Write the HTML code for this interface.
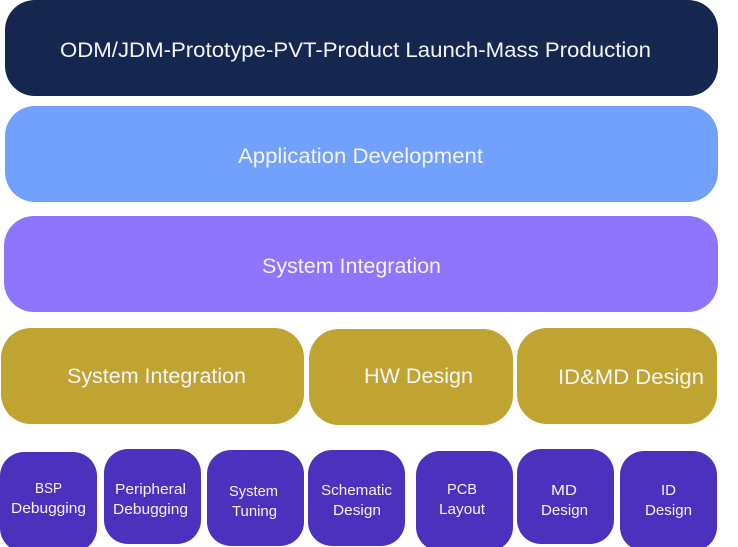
<!DOCTYPE html>
<html>
<head>
<meta charset="utf-8">
<style>
html,body{margin:0;padding:0;background:#fff;}
svg{display:block;}
text{font-family:"Liberation Sans",sans-serif;fill:#f4f4fa;}
</style>
</head>
<body>
<svg width="738" height="547" viewBox="0 0 738 547" xmlns="http://www.w3.org/2000/svg">
  <!-- Row 1 -->
  <rect x="5" y="0" width="713" height="96" rx="30" ry="30" fill="#15264f"/>
  <text x="60" y="57" font-size="21" textLength="591" lengthAdjust="spacingAndGlyphs">ODM/JDM-Prototype-PVT-Product Launch-Mass Production</text>

  <!-- Row 2 -->
  <rect x="5" y="106" width="713" height="96" rx="30" ry="30" fill="#71a1fc"/>
  <text x="238" y="163" font-size="21" textLength="245" lengthAdjust="spacingAndGlyphs">Application Development</text>

  <!-- Row 3 -->
  <rect x="4" y="216" width="714" height="96" rx="30" ry="30" fill="#8f74fe"/>
  <text x="262" y="273" font-size="21" textLength="179" lengthAdjust="spacingAndGlyphs">System Integration</text>

  <!-- Row 4 -->
  <rect x="1" y="328" width="303" height="96" rx="30" ry="30" fill="#c0a431"/>
  <text x="67" y="383" font-size="21" textLength="179" lengthAdjust="spacingAndGlyphs">System Integration</text>
  <rect x="309" y="329" width="204" height="96" rx="30" ry="30" fill="#c0a431"/>
  <text x="364" y="383" font-size="21" textLength="109" lengthAdjust="spacingAndGlyphs">HW Design</text>
  <rect x="517" y="328" width="200" height="96" rx="30" ry="30" fill="#c0a431"/>
  <text x="558" y="384" font-size="21" textLength="146" lengthAdjust="spacingAndGlyphs">ID&amp;MD Design</text>

  <!-- Row 5 -->
  <g fill="#4b31bd">
    <rect x="0" y="452" width="97" height="100" rx="24" ry="24"/>
    <rect x="104" y="449" width="97" height="95" rx="24" ry="24"/>
    <rect x="207" y="450" width="97" height="96" rx="24" ry="24"/>
    <rect x="308" y="450" width="97" height="96" rx="24" ry="24"/>
    <rect x="416" y="451" width="97" height="100" rx="24" ry="24"/>
    <rect x="517" y="449" width="97" height="95" rx="24" ry="24"/>
    <rect x="620" y="451" width="97" height="100" rx="24" ry="24"/>
  </g>
  <g font-size="15">
    <text x="35" y="493" textLength="27" lengthAdjust="spacingAndGlyphs">BSP</text>
    <text x="11" y="513" textLength="75" lengthAdjust="spacingAndGlyphs">Debugging</text>

    <text x="115" y="494" textLength="71" lengthAdjust="spacingAndGlyphs">Peripheral</text>
    <text x="113" y="514" textLength="75" lengthAdjust="spacingAndGlyphs">Debugging</text>

    <text x="229" y="496" textLength="49" lengthAdjust="spacingAndGlyphs">System</text>
    <text x="232" y="516" textLength="45" lengthAdjust="spacingAndGlyphs">Tuning</text>

    <text x="321" y="495" textLength="71" lengthAdjust="spacingAndGlyphs">Schematic</text>
    <text x="333" y="515" textLength="48" lengthAdjust="spacingAndGlyphs">Design</text>

    <text x="447" y="494" textLength="30" lengthAdjust="spacingAndGlyphs">PCB</text>
    <text x="439" y="514" textLength="46" lengthAdjust="spacingAndGlyphs">Layout</text>

    <text x="551" y="495" textLength="26" lengthAdjust="spacingAndGlyphs">MD</text>
    <text x="541" y="515" textLength="47" lengthAdjust="spacingAndGlyphs">Design</text>

    <text x="661" y="495" textLength="15" lengthAdjust="spacingAndGlyphs">ID</text>
    <text x="645" y="515" textLength="47" lengthAdjust="spacingAndGlyphs">Design</text>
  </g>
</svg>
</body>
</html>
